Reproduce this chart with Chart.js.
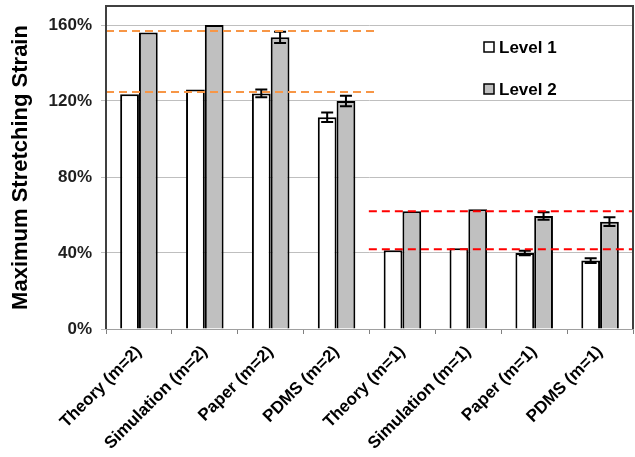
<!DOCTYPE html>
<html>
<head>
<meta charset="utf-8">
<script src="https://cdn.jsdelivr.net/npm/chart.js"></script>
<style>
  html, body { margin: 0; padding: 0; background: #fff; }
  #wrap { width: 635px; height: 457px; }
</style>
</head>
<body>
<div id="wrap"><canvas id="myChart" width="635" height="457"></canvas></div>
<script>
const categories = ['Theory (m=2)', 'Simulation (m=2)', 'Paper (m=2)', 'PDMS (m=2)',
    'Theory (m=1)', 'Simulation (m=1)', 'Paper (m=1)', 'PDMS (m=1)'];
const level1 = [123.5, 126, 124, 111.5, 41.5, 42.5, 40, 36];
const level2 = [156, 160, 153.5, 120, 62, 63, 59.5, 56.5];
const level1Err = [0, 0, 2, 2.5, 0, 0, 1.2, 1.3];
const level2Err = [0, 0, 3, 2.7, 0, 0, 2, 2.3];
const yTicks = [0, 40, 80, 120, 160];

// dashed guide lines: value, from / to in category units
const guideValues = [156.8, 124.7, 62, 42];
const guideFrom = [-0.5, -0.5, 3.49, 3.49];
const guideTo = [3.58, 3.58, 7.5, 7.5];
const guideColors = ['#F79646', '#F79646', '#FF0000', '#FF0000'];

const FONT = '"Liberation Sans", Arial, sans-serif';

const extras = {
    id: 'extras',
    afterDatasetsDraw(chart) {
        const ctx = chart.ctx;
        const x = chart.scales.x, y = chart.scales.y;
        const area = chart.chartArea;
        ctx.save();

        // error bars
        const errs = [level1Err, level2Err];
        chart.data.datasets.forEach((ds, di) => {
            const meta = chart.getDatasetMeta(di);
            ds.data.forEach((v, i) => {
                const e = errs[di][i];
                if (!e) return;
                const px = meta.data[i].x;
                const top = y.getPixelForValue(v + e);
                const bot = y.getPixelForValue(v - e);
                ctx.strokeStyle = '#000';
                ctx.lineWidth = 2;
                ctx.beginPath();
                ctx.moveTo(px, top); ctx.lineTo(px, bot);
                ctx.moveTo(px - 6, top); ctx.lineTo(px + 6, top);
                ctx.moveTo(px - 6, bot); ctx.lineTo(px + 6, bot);
                ctx.stroke();
            });
        });

        // dashed guides
        const step = x.getPixelForValue(1) - x.getPixelForValue(0);
        guideValues.forEach((v, i) => {
            const py = y.getPixelForValue(v);
            const x0 = x.getPixelForValue(0) + guideFrom[i] * step;
            const x1 = x.getPixelForValue(0) + guideTo[i] * step;
            ctx.strokeStyle = guideColors[i];
            ctx.lineWidth = 2;
            ctx.setLineDash([8, 5]);
            ctx.beginPath();
            ctx.moveTo(x0, py); ctx.lineTo(x1, py);
            ctx.stroke();
        });
        ctx.setLineDash([]);

        // plot border
        ctx.strokeStyle = '#404040';
        ctx.lineWidth = 2;
        ctx.beginPath();
        ctx.moveTo(area.left, area.bottom);
        ctx.lineTo(area.left, area.top);
        ctx.lineTo(area.right, area.top);
        ctx.lineTo(area.right, area.bottom);
        ctx.stroke();

        // legend
        const items = [['Level 1', '#FFFFFF', 47], ['Level 2', '#C0C0C0', 89]];
        ctx.font = 'bold 17px ' + FONT;
        ctx.textBaseline = 'middle';
        items.forEach(([label, fill, cy]) => {
            ctx.fillStyle = fill;
            ctx.strokeStyle = '#000';
            ctx.lineWidth = 1.5;
            ctx.fillRect(484, cy - 5, 10, 10);
            ctx.strokeRect(484, cy - 5, 10, 10);
            ctx.fillStyle = '#000';
            ctx.fillText(label, 499, cy + 1);
        });
        ctx.restore();
    }
};

new Chart(document.getElementById('myChart'), {
    type: 'bar',
    data: {
        labels: categories,
        datasets: [
            {
                label: 'Level 1',
                data: level1,
                backgroundColor: '#FFFFFF',
                borderColor: '#000000',
                borderWidth: 2,
                categoryPercentage: 0.57,
                barPercentage: 1.0
            },
            {
                label: 'Level 2',
                data: level2,
                backgroundColor: '#C0C0C0',
                borderColor: '#000000',
                borderWidth: 2,
                categoryPercentage: 0.57,
                barPercentage: 1.0
            }
        ]
    },
    options: {
        responsive: false,
        animation: false,
        layout: { padding: { top: 6, right: 2, left: 0, bottom: 0 } },
        plugins: {
            legend: { display: false },
            tooltip: { enabled: false }
        },
        scales: {
            x: {
                grid: { display: true, drawOnChartArea: false, offset: true, tickLength: 5, color: '#808080' },
                border: { color: '#A0A0A0', width: 1 },
                ticks: {
                    maxRotation: 45, minRotation: 45,
                    color: '#000',
                    font: { family: FONT, size: 17, weight: 'bold' },
                    padding: 8
                },
                afterFit: (scale) => {
                    scale.height = 128;
                    scale.paddingLeft = 0;
                    scale.paddingRight = 0;
                }
            },
            y: {
                min: 0,
                max: 170,
                grid: { color: '#BFBFBF', lineWidth: 1, tickLength: 5, drawTicks: true },
                border: { display: false },
                afterBuildTicks: (scale) => { scale.ticks = yTicks.map(v => ({ value: v })); },
                ticks: {
                    color: '#1F1F1F',
                    font: { family: FONT, size: 17, weight: 'bold' },
                    padding: 9,
                    callback: (v) => v + '%'
                },
                title: {
                    display: true,
                    text: 'Maximum Stretching Strain',
                    color: '#000',
                    font: { family: FONT, size: 22, weight: 'bold' },
                    padding: { top: 8, bottom: 8 }
                },
                afterFit: (scale) => {
                    scale.width = 106;
                    scale.paddingTop = 0;
                    scale.paddingBottom = 0;
                }
            }
        }
    },
    plugins: [extras]
});
</script>
</body>
</html>
